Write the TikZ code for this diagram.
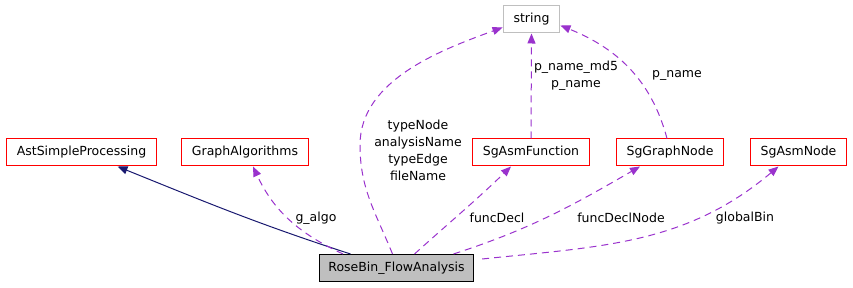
\documentclass[tikz,border=0pt]{standalone}
\usepackage{fontspec}
\setmainfont{DejaVu Sans}
\usepackage{tikz}
\usetikzlibrary{arrows.meta}

\definecolor{edgepurple}{HTML}{9A32CD}
\definecolor{edgenavy}{HTML}{191970}
\definecolor{boxgrey}{HTML}{BFBFBF}

\begin{document}
\begin{tikzpicture}[
    x=1pt, y=-1pt,
    font=\fontsize{12.5}{17}\selectfont,
    cls/.style={draw=red, line width=1pt, minimum height=27pt, inner xsep=10.5pt, inner ysep=0pt},
    extcls/.style={cls, draw=boxgrey},
    maincls/.style={cls, draw=black, fill=boxgrey, inner xsep=9pt},
    lbl/.style={align=center, inner sep=0pt},
    uses/.style={-{Triangle[length=10pt,width=8pt]}, edgepurple, line width=1pt, dash pattern=on 7pt off 5pt},
    inherits/.style={-{Triangle[length=10pt,width=8pt]}, edgenavy, line width=1pt}
]
\useasboundingbox (0,0) rectangle (853,288);

% classes
\node[cls] (ast) at (81.5,152.5) {AstSimpleProcessing};
\node[cls] (galgo) at (245,152.5) {GraphAlgorithms};
\node[extcls] (str) at (531.5,19.5) {string};
\node[cls] (func) at (531,152.5) {SgAsmFunction};
\node[cls] (gnode) at (670,152.5) {SgGraphNode};
\node[cls] (asmnode) at (798.5,152.5) {SgAsmNode};
\node[maincls] (flow) at (396.5,268) {RoseBin\_FlowAnalysis};
\coordinate (strbend) at (360,145);

% base class
\draw[inherits] ([xshift=-46pt]flow.north) to[out=162,in=-22] ([xshift=36pt]ast.south);

% members
\draw[uses] ([xshift=-53.5pt]flow.north) to[out=155,in=-65] ([xshift=8pt]galgo.south);
\draw[uses] ([xshift=-4pt]flow.north) to[out=112,in=-90] (strbend)
    to[out=90,in=200,looseness=0.9] ([yshift=-8pt]str.west);
\draw[uses] ([xshift=18pt]flow.north) to[out=42,in=-136] ([xshift=-20pt]func.south);
\draw[uses] ([xshift=57pt]flow.north) to[out=18,in=-150] ([xshift=-30pt]gnode.south);
\draw[uses] ([yshift=9pt,xshift=8pt]flow.east) to[out=6,in=-140] ([xshift=-20pt]asmnode.south);
\draw[uses] (func.north) -- (str.south);
\draw[uses] ([xshift=-3pt]gnode.north) to[out=105,in=-22] ([yshift=-6pt]str.east);

% member names
\node[lbl] (l1) at (316,218) {g\_algo};
\node[lbl] (l2) at (418,150.5) {typeNode\\analysisName\\typeEdge\\fileName};
\node[lbl] (l3) at (497,218) {funcDecl};
\node[lbl] (l4) at (621,218) {funcDeclNode};
\node[lbl] (l5) at (745,218) {globalBin};
\node[lbl] (l6) at (576,75.5) {p\_name\_md5\\p\_name};
\node[lbl] (l7) at (677,75) {p\_name};
\end{tikzpicture}
\end{document}
